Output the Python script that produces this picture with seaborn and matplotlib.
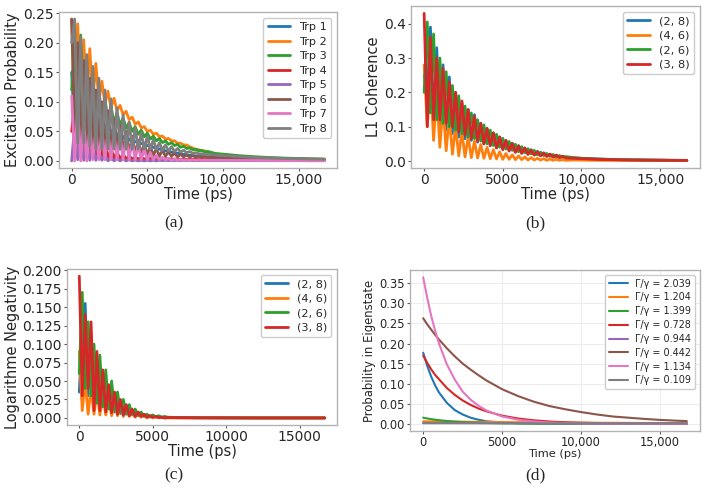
import numpy as np
import matplotlib
matplotlib.use("Agg")
import matplotlib.pyplot as plt
import seaborn as sns
import pandas as pd

# time grid (ps) shared by panels a and b
t = [0, 200, 400, 600, 800, 1000, 1200, 1400, 1600, 1800,
     2000, 2200, 2400, 2600, 2800, 3000, 3200, 3400, 3600, 3800,
     4000, 4200, 4400, 4600, 4800, 5000, 5200, 5400, 5600, 5800,
     6000, 6200, 6400, 6600, 6800, 7000, 7200, 7400, 7600, 7800,
     8000, 8200, 8400, 8600, 8800, 9000, 9500, 10000, 11000, 12000,
     13000, 14000, 15000, 16000, 16700]

# (a) excitation probability per tryptophan
trp_labels = ["Trp 1", "Trp 2", "Trp 3", "Trp 4", "Trp 5", "Trp 6", "Trp 7", "Trp 8"]
trp1 = [0.150, 0.050, 0.170, 0.050, 0.150, 0.050, 0.120, 0.050, 0.100, 0.045,
        0.085, 0.045, 0.070, 0.042, 0.060, 0.040, 0.052, 0.038, 0.045, 0.035,
        0.038, 0.032, 0.033, 0.029, 0.029, 0.026, 0.025, 0.023, 0.022, 0.020,
        0.019, 0.017, 0.016, 0.015, 0.014, 0.013, 0.012, 0.011, 0.0105, 0.0095,
        0.009, 0.0085, 0.008, 0.0075, 0.007, 0.0065, 0.006, 0.0055, 0.0045, 0.0037,
        0.003, 0.0026, 0.0023, 0.002, 0.0018]
trp2 = [0.240, 0.070, 0.232, 0.090, 0.205, 0.095, 0.190, 0.100, 0.165, 0.100,
        0.135, 0.095, 0.118, 0.090, 0.106, 0.085, 0.094, 0.078, 0.084, 0.070,
        0.074, 0.062, 0.066, 0.056, 0.058, 0.050, 0.052, 0.045, 0.047, 0.041,
        0.042, 0.037, 0.038, 0.034, 0.034, 0.030, 0.030, 0.027, 0.027, 0.024,
        0.022, 0.019, 0.019, 0.017, 0.017, 0.015, 0.012, 0.0105, 0.008, 0.0062,
        0.005, 0.0042, 0.0036, 0.0031, 0.0028]
trp3 = [0.120, 0.200, 0.040, 0.213, 0.050, 0.170, 0.060, 0.140, 0.065, 0.120,
        0.070, 0.105, 0.068, 0.092, 0.064, 0.082, 0.060, 0.073, 0.055, 0.065,
        0.050, 0.058, 0.045, 0.052, 0.041, 0.047, 0.037, 0.042, 0.034, 0.038,
        0.031, 0.034, 0.028, 0.031, 0.026, 0.028, 0.023, 0.025, 0.021, 0.022,
        0.019, 0.020, 0.017, 0.018, 0.015, 0.016, 0.0125, 0.0115, 0.009, 0.0072,
        0.0058, 0.0048, 0.0041, 0.0035, 0.0031]
trp4 = [0.050, 0.100, 0.020, 0.080, 0.010, 0.060, 0.010, 0.050, 0.005, 0.040,
        0.005, 0.030, 0.004, 0.022, 0.004, 0.016, 0.003, 0.012, 0.003, 0.009,
        0.003, 0.007, 0.003, 0.006, 0.003, 0.005, 0.004, 0.0045, 0.0035, 0.004,
        0.0035, 0.0038, 0.0033, 0.0035, 0.003, 0.0032, 0.0028, 0.003, 0.0026, 0.0028,
        0.0025, 0.0026, 0.0024, 0.0025, 0.0023, 0.0023, 0.0021, 0.002, 0.0018, 0.0016,
        0.0014, 0.0013, 0.0012, 0.0011, 0.001]
trp5 = [0.000, 0.060, 0.002, 0.050, 0.001, 0.035, 0.001, 0.025, 0.001, 0.015,
        0.001, 0.010, 0.000, 0.006, 0.000, 0.004, 0.000, 0.003, 0.000, 0.002,
        0.000, 0.0015, 0.000, 0.001, 0.000, 0.001, 0.000, 0.001, 0.000, 0.001,
        0.0005, 0.001, 0.0005, 0.001, 0.0005, 0.001, 0.0005, 0.001, 0.0005, 0.001,
        0.0005, 0.0008, 0.0005, 0.0008, 0.0005, 0.0007, 0.0006, 0.0006, 0.0005, 0.0005,
        0.0004, 0.0004, 0.0004, 0.0003, 0.0003]
trp6 = [0.240, 0.050, 0.200, 0.040, 0.170, 0.030, 0.140, 0.030, 0.120, 0.025,
        0.100, 0.020, 0.085, 0.018, 0.070, 0.016, 0.060, 0.014, 0.050, 0.012,
        0.042, 0.011, 0.035, 0.010, 0.030, 0.009, 0.025, 0.009, 0.021, 0.008,
        0.018, 0.008, 0.015, 0.008, 0.013, 0.007, 0.011, 0.007, 0.010, 0.0065,
        0.009, 0.0062, 0.0082, 0.006, 0.0075, 0.0058, 0.0055, 0.005, 0.0044, 0.0038,
        0.0033, 0.0029, 0.0025, 0.0022, 0.002]
trp7 = [0.110, 0.000, 0.090, 0.000, 0.065, 0.000, 0.055, 0.002, 0.050, 0.002,
        0.050, 0.002, 0.048, 0.002, 0.046, 0.002, 0.044, 0.002, 0.040, 0.002,
        0.035, 0.002, 0.028, 0.002, 0.020, 0.002, 0.014, 0.002, 0.009, 0.002,
        0.006, 0.002, 0.004, 0.0015, 0.003, 0.0015, 0.0025, 0.0012, 0.002, 0.0012,
        0.0018, 0.001, 0.0015, 0.001, 0.0013, 0.001, 0.001, 0.0009, 0.0008, 0.0007,
        0.0006, 0.0005, 0.0005, 0.0004, 0.0004]
trp8 = [0.200, 0.240, 0.030, 0.210, 0.030, 0.180, 0.025, 0.160, 0.020, 0.140,
        0.020, 0.120, 0.020, 0.105, 0.020, 0.090, 0.020, 0.078, 0.020, 0.066,
        0.020, 0.056, 0.020, 0.048, 0.020, 0.042, 0.020, 0.036, 0.019, 0.031,
        0.018, 0.027, 0.017, 0.024, 0.016, 0.021, 0.015, 0.018, 0.014, 0.016,
        0.013, 0.014, 0.012, 0.012, 0.011, 0.011, 0.010, 0.009, 0.0075, 0.006,
        0.005, 0.0042, 0.0036, 0.0031, 0.0028]

# (b) L1 coherence for pairs
pair_labels = ["(2, 8)", "(4, 6)", "(2, 6)", "(3, 8)"]
l1_28 = [0.250, 0.200, 0.390, 0.120, 0.330, 0.100, 0.280, 0.090, 0.245, 0.080,
         0.200, 0.070, 0.170, 0.065, 0.150, 0.060, 0.135, 0.055, 0.110, 0.050,
         0.095, 0.045, 0.082, 0.040, 0.070, 0.036, 0.060, 0.032, 0.052, 0.028,
         0.045, 0.025, 0.038, 0.022, 0.033, 0.019, 0.028, 0.017, 0.024, 0.015,
         0.020, 0.013, 0.017, 0.011, 0.014, 0.010, 0.009, 0.008, 0.006, 0.0045,
         0.0035, 0.003, 0.0025, 0.002, 0.002]
l1_46 = [0.280, 0.100, 0.250, 0.060, 0.200, 0.040, 0.160, 0.030, 0.130, 0.020,
         0.100, 0.015, 0.085, 0.012, 0.070, 0.010, 0.058, 0.009, 0.048, 0.008,
         0.040, 0.007, 0.033, 0.006, 0.027, 0.005, 0.022, 0.005, 0.018, 0.004,
         0.015, 0.004, 0.012, 0.003, 0.010, 0.003, 0.008, 0.003, 0.007, 0.002,
         0.006, 0.002, 0.005, 0.002, 0.004, 0.002, 0.003, 0.0025, 0.002, 0.0018,
         0.0016, 0.0015, 0.0014, 0.0013, 0.0012]
l1_26 = [0.200, 0.405, 0.140, 0.370, 0.120, 0.300, 0.110, 0.260, 0.100, 0.220,
         0.090, 0.190, 0.080, 0.160, 0.070, 0.140, 0.065, 0.120, 0.058, 0.105,
         0.050, 0.090, 0.045, 0.078, 0.040, 0.066, 0.035, 0.057, 0.031, 0.049,
         0.027, 0.042, 0.024, 0.036, 0.021, 0.031, 0.018, 0.026, 0.016, 0.022,
         0.014, 0.019, 0.012, 0.016, 0.011, 0.013, 0.010, 0.008, 0.006, 0.0045,
         0.0035, 0.003, 0.0025, 0.002, 0.002]
l1_38 = [0.430, 0.100, 0.360, 0.120, 0.300, 0.120, 0.270, 0.110, 0.230, 0.100,
         0.200, 0.085, 0.175, 0.075, 0.150, 0.065, 0.130, 0.058, 0.110, 0.050,
         0.095, 0.045, 0.082, 0.038, 0.070, 0.033, 0.060, 0.029, 0.051, 0.025,
         0.044, 0.022, 0.038, 0.019, 0.032, 0.017, 0.027, 0.015, 0.023, 0.013,
         0.020, 0.011, 0.017, 0.010, 0.014, 0.009, 0.008, 0.007, 0.005, 0.004,
         0.0032, 0.0028, 0.0024, 0.002, 0.0018]

# (c) logarithmic negativity, own time grid
tc = [0, 200, 400, 600, 800, 1000, 1200, 1400, 1600, 1800,
      2000, 2200, 2400, 2600, 2800, 3000, 3200, 3400, 3600, 3800,
      4000, 4200, 4400, 4600, 4800, 5000, 5200, 5400, 5600, 5800,
      6000, 7000, 8000, 10000, 12000, 14000, 16700]
ln_28 = [0.035, 0.120, 0.155, 0.030, 0.110, 0.020, 0.077, 0.015, 0.056, 0.010,
         0.040, 0.033, 0.008, 0.025, 0.006, 0.018, 0.005, 0.013, 0.004, 0.009,
         0.003, 0.006, 0.002, 0.004, 0.001, 0.003, 0.001, 0.002, 0.0005, 0.001,
         0.0005, 0.0003, 0.0002, 0.0001, 0.0, 0.0, 0.0]
ln_46 = [0.090, 0.010, 0.050, 0.005, 0.040, 0.005, 0.035, 0.004, 0.030, 0.004,
         0.025, 0.003, 0.020, 0.003, 0.015, 0.002, 0.012, 0.002, 0.008, 0.001,
         0.006, 0.001, 0.004, 0.000, 0.003, 0.000, 0.002, 0.000, 0.001, 0.000,
         0.0, 0.0, 0.0, 0.0, 0.0, 0.0, 0.0]
ln_26 = [0.060, 0.170, 0.040, 0.130, 0.030, 0.100, 0.020, 0.085, 0.015, 0.065,
         0.012, 0.050, 0.010, 0.035, 0.008, 0.025, 0.006, 0.018, 0.005, 0.012,
         0.004, 0.008, 0.003, 0.005, 0.002, 0.004, 0.0015, 0.003, 0.001, 0.002,
         0.001, 0.0005, 0.0003, 0.0001, 0.0, 0.0, 0.0]
ln_38 = [0.192, 0.030, 0.140, 0.040, 0.130, 0.010, 0.090, 0.010, 0.065, 0.008,
         0.045, 0.007, 0.035, 0.005, 0.025, 0.004, 0.018, 0.003, 0.012, 0.002,
         0.008, 0.002, 0.005, 0.001, 0.003, 0.001, 0.002, 0.0005, 0.001, 0.000,
         0.0005, 0.0003, 0.0002, 0.0001, 0.0, 0.0, 0.0]

# (d) eigenstate populations
td = [0, 250, 500, 750, 1000, 1500, 2000, 2500, 3000, 3500, 4000, 5000,
      6000, 7000, 8000, 9000, 10000, 11000, 12000, 13000, 14000, 15000, 16000, 16700]
ratio_labels = ["Γ/γ = 2.039", "Γ/γ = 1.204", "Γ/γ = 1.399", "Γ/γ = 0.728",
                "Γ/γ = 0.944", "Γ/γ = 0.442", "Γ/γ = 1.134", "Γ/γ = 0.109"]
eig1 = [0.177, 0.145, 0.118, 0.096, 0.078, 0.052, 0.034, 0.023, 0.015, 0.010, 0.006, 0.003,
        0.0013, 0.0006, 0.0003, 0.0001, 0.0, 0.0, 0.0, 0.0, 0.0, 0.0, 0.0, 0.0]
eig2 = [0.006, 0.0059, 0.0058, 0.0057, 0.0056, 0.0054, 0.0052, 0.005, 0.0048, 0.0046, 0.0044, 0.004,
        0.0037, 0.0034, 0.0031, 0.0028, 0.0026, 0.0024, 0.0022, 0.002, 0.0018, 0.0017, 0.0015, 0.0014]
eig3 = [0.015, 0.013, 0.0115, 0.010, 0.0088, 0.0068, 0.0052, 0.004, 0.0031, 0.0024, 0.0018, 0.0011,
        0.0007, 0.0004, 0.0003, 0.0002, 0.0001, 0.0001, 0.0, 0.0, 0.0, 0.0, 0.0, 0.0]
eig4 = [0.170, 0.152, 0.136, 0.122, 0.111, 0.089, 0.072, 0.058, 0.047, 0.038, 0.031, 0.020,
        0.013, 0.0085, 0.0055, 0.0036, 0.0024, 0.0016, 0.001, 0.0007, 0.0004, 0.0003, 0.0002, 0.0001]
eig5 = [0.002, 0.002, 0.002, 0.002, 0.002, 0.0019, 0.0019, 0.0018, 0.0018, 0.0017, 0.0017, 0.0016,
        0.0015, 0.0014, 0.0013, 0.0012, 0.0012, 0.0011, 0.001, 0.001, 0.0009, 0.0009, 0.0008, 0.0008]
eig6 = [0.263, 0.248, 0.235, 0.222, 0.210, 0.188, 0.168, 0.150, 0.135, 0.121, 0.108, 0.086,
        0.069, 0.055, 0.044, 0.036, 0.029, 0.023, 0.018, 0.015, 0.012, 0.0095, 0.0076, 0.0065]
eig7 = [0.365, 0.315, 0.270, 0.233, 0.200, 0.148, 0.110, 0.080, 0.060, 0.045, 0.033, 0.018,
        0.010, 0.0055, 0.003, 0.0017, 0.001, 0.0005, 0.0003, 0.0002, 0.0001, 0.0, 0.0, 0.0]
eig8 = [0.0012, 0.0012, 0.0012, 0.0012, 0.0012, 0.0012, 0.0011, 0.0011, 0.0011, 0.0011, 0.0011, 0.001,
        0.001, 0.001, 0.0009, 0.0009, 0.0009, 0.0008, 0.0008, 0.0008, 0.0007, 0.0007, 0.0007, 0.0007]

sns.set_theme(style="ticks")
plt.rcParams['font.family'] = ['DejaVu Sans']
colors = sns.color_palette("tab10")

fig = plt.figure(figsize=(7.04, 4.96), dpi=100)


def frame(ax, size):
    for s in ax.spines.values():
        s.set_color('0.7')
        s.set_linewidth(1.0)
    ax.tick_params(labelsize=size, length=2.5, width=0.8, color='0.35', pad=1.2)


def time_ticks(ax, labels):
    ax.set_xticks([0, 5000, 10000, 15000])
    ax.set_xticklabels(labels)


comma_labels = ['0', '5000', '10,000', '15,000']
leg_kw = dict(loc='upper right', edgecolor='0.8', framealpha=1, labelspacing=0.4)

# (a)
ax = fig.add_axes([0.0838, 0.6613, 0.3949, 0.3145])
for lab, vals, c in zip(trp_labels, [trp1, trp2, trp3, trp4, trp5, trp6, trp7, trp8], colors):
    sns.lineplot(x=t, y=vals, ax=ax, color=c, lw=2, label=lab)
ax.set_yticks([0.0, 0.05, 0.10, 0.15, 0.20, 0.25])
ax.yaxis.set_major_formatter(matplotlib.ticker.FormatStrFormatter('%.2f'))
time_ticks(ax, comma_labels)
ax.set_xlabel('Time (ps)', fontsize=10.5, labelpad=0)
ax.set_ylabel('Excitation Probability', fontsize=10.5, labelpad=2)
frame(ax, 10)
ax.legend(fontsize=8.1, **leg_kw)

# (b)
ax = fig.add_axes([0.5838, 0.6613, 0.4105, 0.3266])
for lab, vals, c in zip(pair_labels, [l1_28, l1_46, l1_26, l1_38], colors):
    sns.lineplot(x=t, y=vals, ax=ax, color=c, lw=2, label=lab)
ax.set_yticks([0.0, 0.1, 0.2, 0.3, 0.4])
ax.yaxis.set_major_formatter(matplotlib.ticker.FormatStrFormatter('%.1f'))
time_ticks(ax, comma_labels)
ax.set_xlabel('Time (ps)', fontsize=10.5, labelpad=0)
ax.set_ylabel('L1 Coherence', fontsize=10.5, labelpad=2)
frame(ax, 10)
ax.legend(fontsize=8.2, **leg_kw)

# (c)
ax = fig.add_axes([0.0952, 0.1431, 0.3835, 0.3145])
for lab, vals, c in zip(pair_labels, [ln_28, ln_46, ln_26, ln_38], colors):
    sns.lineplot(x=tc, y=vals, ax=ax, color=c, lw=2, label=lab)
ax.set_yticks([0.0, 0.025, 0.05, 0.075, 0.1, 0.125, 0.15, 0.175, 0.2])
ax.yaxis.set_major_formatter(matplotlib.ticker.FormatStrFormatter('%.3f'))
time_ticks(ax, ['0', '5000', '10000', '15000'])
ax.set_xlabel('Time (ps)', fontsize=10.5, labelpad=0)
ax.set_ylabel('Logarithme Negativity', fontsize=10.5, labelpad=2)
frame(ax, 10)
ax.legend(fontsize=8.1, **leg_kw)

# (d)
ax = fig.add_axes([0.5824, 0.1310, 0.4119, 0.3246])
for lab, vals, c in zip(ratio_labels, [eig1, eig2, eig3, eig4, eig5, eig6, eig7, eig8], colors):
    sns.lineplot(x=td, y=vals, ax=ax, color=c, lw=1.5, label=lab)
ax.set_yticks([0.0, 0.05, 0.10, 0.15, 0.20, 0.25, 0.30, 0.35])
ax.yaxis.set_major_formatter(matplotlib.ticker.FormatStrFormatter('%.2f'))
time_ticks(ax, comma_labels)
ax.grid(True, color='0.93', lw=0.8)
ax.set_xlabel('Time (ps)', fontsize=8.2, labelpad=0)
ax.set_ylabel('Probability in Eigenstate', fontsize=8.4, labelpad=2)
frame(ax, 8.3)
ax.legend(fontsize=6.9, **leg_kw)

# subfigure captions
for x, y, s in [(0.247, 0.550, '(a)'), (0.761, 0.550, '(b)'),
                (0.247, 0.042, '(c)'), (0.761, 0.042, '(d)')]:
    fig.text(x, y, s, ha='center', va='center', fontsize=12.5, family='Liberation Serif')

fig.savefig('out.png', dpi=100)
